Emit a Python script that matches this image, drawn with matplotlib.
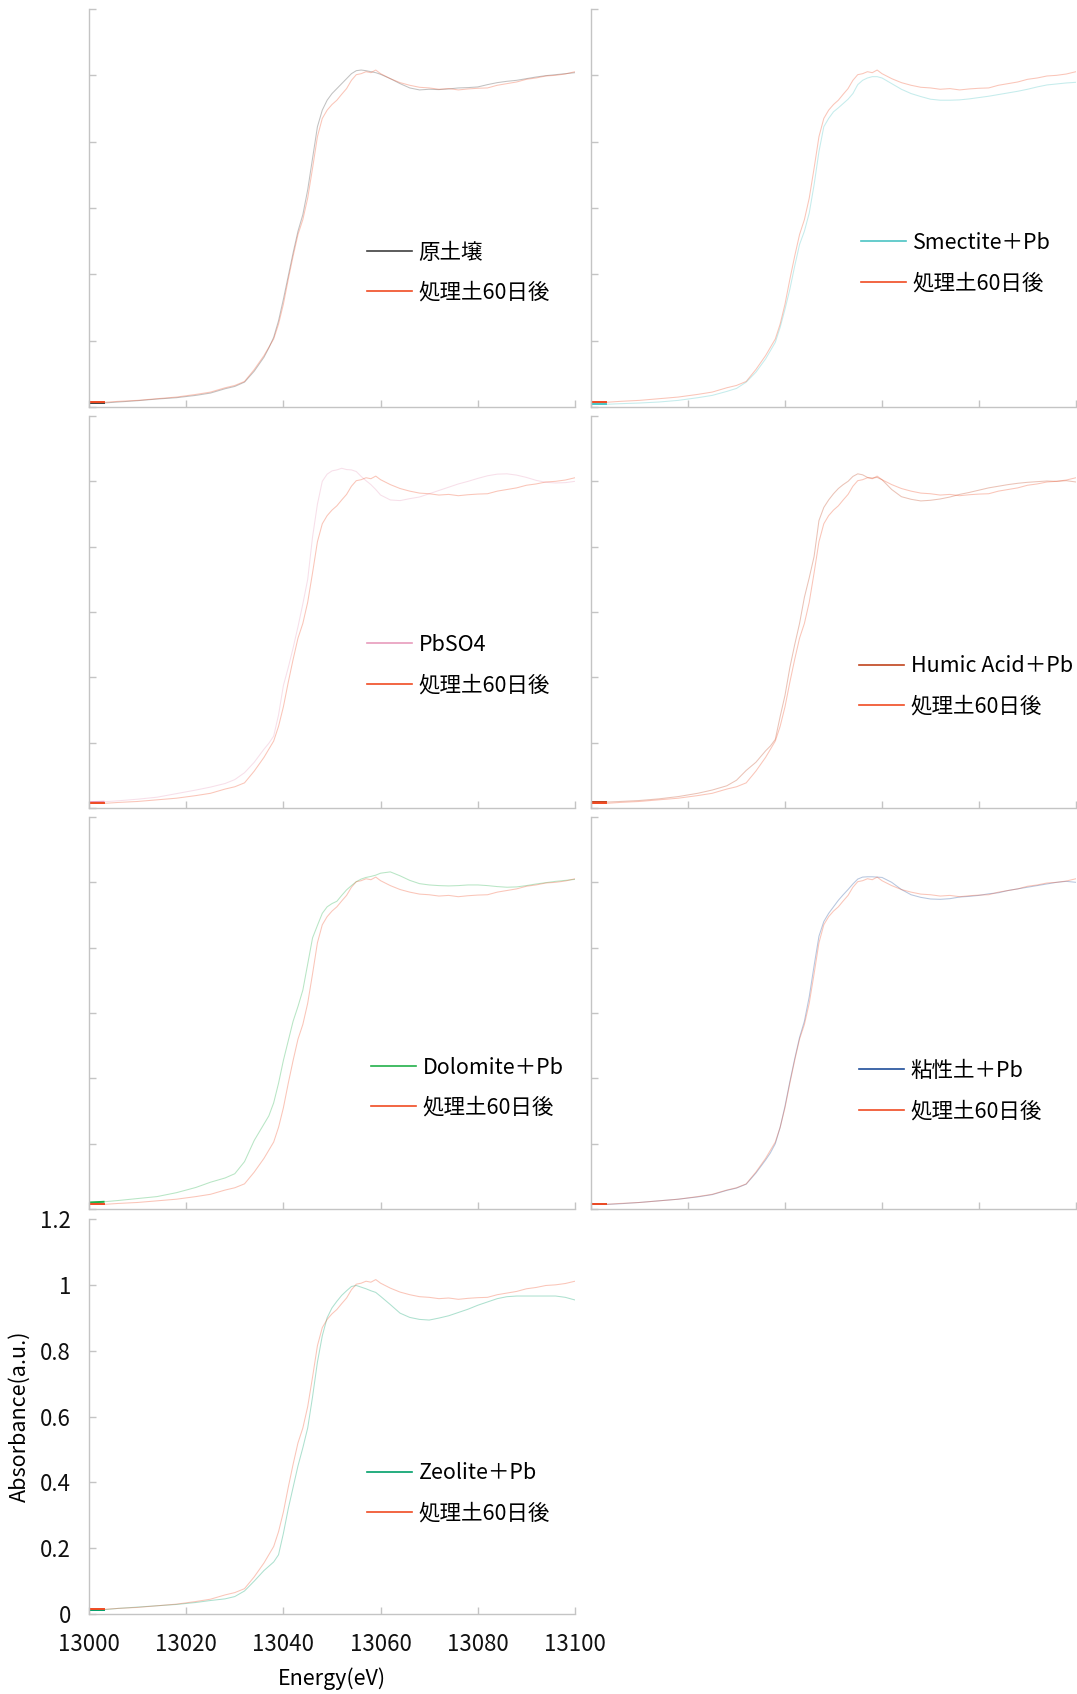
import numpy as np
import matplotlib.pyplot as plt
from matplotlib.lines import Line2D

plt.rcParams['font.family'] = ['Noto Sans CJK JP', 'DejaVu Sans']

# =============================================
# Pb L3-edge XANES spectra (normalised absorbance)
# =============================================
energy = [13000, 13003, 13006, 13010, 13014, 13018, 13022, 13025, 13028, 13030,
          13032, 13034, 13036, 13037, 13038, 13039, 13040, 13041, 13042, 13043,
          13044, 13045, 13046, 13047, 13048, 13049, 13050, 13051, 13052, 13053,
          13054, 13055, 13056, 13057, 13058, 13059, 13060, 13062, 13064, 13066,
          13068, 13070, 13072, 13074, 13076, 13078, 13080, 13082, 13084, 13086,
          13088, 13090, 13092, 13094, 13096, 13098, 13100]

treated_60d = [0.014, 0.014, 0.017, 0.020, 0.025, 0.030, 0.038, 0.045, 0.058, 0.065,
               0.077, 0.113, 0.155, 0.180, 0.205, 0.250, 0.310, 0.385, 0.455, 0.520,
               0.565, 0.630, 0.720, 0.815, 0.870, 0.895, 0.912, 0.925, 0.943, 0.960,
               0.985, 1.002, 1.005, 1.011, 1.008, 1.016, 1.005, 0.990, 0.978, 0.970,
               0.964, 0.962, 0.958, 0.960, 0.956, 0.959, 0.961, 0.962, 0.970, 0.975,
               0.980, 0.988, 0.992, 0.998, 1.000, 1.004, 1.011]

raw_soil = [0.012, 0.012, 0.015, 0.019, 0.024, 0.028, 0.035, 0.042, 0.055, 0.062,
            0.075, 0.108, 0.150, 0.178, 0.210, 0.260, 0.325, 0.395, 0.465, 0.530,
            0.580, 0.655, 0.750, 0.845, 0.895, 0.925, 0.945, 0.960, 0.975, 0.990,
            1.005, 1.014, 1.016, 1.014, 1.011, 1.008, 1.003, 0.990, 0.975, 0.962,
            0.956, 0.958, 0.957, 0.959, 0.962, 0.963, 0.965, 0.972, 0.978, 0.982,
            0.985, 0.990, 0.995, 0.999, 1.002, 1.005, 1.008]

smectite_pb = [0.008, 0.008, 0.010, 0.012, 0.015, 0.020, 0.028, 0.035, 0.047, 0.056,
               0.075, 0.105, 0.145, 0.170, 0.195, 0.240, 0.295, 0.355, 0.425, 0.490,
               0.530, 0.585, 0.670, 0.770, 0.845, 0.870, 0.890, 0.902, 0.915, 0.928,
               0.945, 0.972, 0.985, 0.992, 0.996, 0.996, 0.992, 0.975, 0.958, 0.945,
               0.936, 0.928, 0.925, 0.925, 0.926, 0.929, 0.933, 0.937, 0.942, 0.947,
               0.952, 0.958, 0.965, 0.971, 0.974, 0.977, 0.979]

pbso4 = [0.018, 0.019, 0.022, 0.027, 0.033, 0.044, 0.055, 0.064, 0.075, 0.087,
         0.108, 0.140, 0.180, 0.198, 0.220, 0.285, 0.375, 0.430, 0.490, 0.555,
         0.625, 0.700, 0.830, 0.930, 1.000, 1.022, 1.032, 1.035, 1.040, 1.036,
         1.035, 1.030, 1.015, 1.002, 0.990, 0.975, 0.958, 0.943, 0.941, 0.947,
         0.952, 0.962, 0.972, 0.982, 0.992, 1.000, 1.009, 1.017, 1.022, 1.023,
         1.019, 1.012, 1.003, 0.997, 0.995, 0.996, 1.000]

humic_pb = [0.018, 0.018, 0.020, 0.023, 0.028, 0.035, 0.045, 0.055, 0.068, 0.085,
            0.115, 0.140, 0.175, 0.190, 0.210, 0.280, 0.345, 0.430, 0.500, 0.565,
            0.645, 0.705, 0.770, 0.880, 0.920, 0.943, 0.962, 0.978, 0.990, 1.000,
            1.015, 1.023, 1.020, 1.012, 1.010, 1.012, 1.005, 0.975, 0.953, 0.945,
            0.940, 0.942, 0.946, 0.952, 0.960, 0.966, 0.973, 0.980, 0.985, 0.990,
            0.994, 0.997, 0.999, 1.001, 1.000, 1.002, 0.998]

dolomite_pb = [0.020, 0.022, 0.026, 0.032, 0.038, 0.050, 0.066, 0.082, 0.095, 0.108,
               0.145, 0.210, 0.260, 0.285, 0.325, 0.385, 0.455, 0.515, 0.575, 0.620,
               0.670, 0.750, 0.830, 0.868, 0.905, 0.925, 0.935, 0.942, 0.960, 0.977,
               0.990, 1.002, 1.010, 1.015, 1.018, 1.022, 1.028, 1.032, 1.020, 1.006,
               0.996, 0.992, 0.990, 0.989, 0.990, 0.992, 0.992, 0.990, 0.987, 0.985,
               0.986, 0.990, 0.995, 0.999, 1.003, 1.006, 1.009]

clay_pb = [0.014, 0.014, 0.016, 0.020, 0.025, 0.030, 0.037, 0.044, 0.057, 0.064,
           0.076, 0.110, 0.150, 0.172, 0.200, 0.250, 0.315, 0.390, 0.460, 0.525,
           0.575, 0.650, 0.745, 0.835, 0.880, 0.905, 0.925, 0.945, 0.962, 0.978,
           0.995, 1.010, 1.016, 1.017, 1.017, 1.016, 1.015, 1.000, 0.978, 0.962,
           0.954, 0.949, 0.948, 0.950, 0.955, 0.957, 0.960, 0.965, 0.968, 0.975,
           0.980, 0.985, 0.990, 0.995, 1.000, 1.003, 1.000]

zeolite_pb = [0.013, 0.013, 0.017, 0.021, 0.025, 0.029, 0.035, 0.041, 0.046, 0.053,
              0.070, 0.100, 0.132, 0.145, 0.158, 0.180, 0.245, 0.320, 0.385, 0.450,
              0.505, 0.565, 0.660, 0.765, 0.845, 0.900, 0.930, 0.950, 0.968, 0.982,
              0.995, 0.998, 0.993, 0.988, 0.982, 0.977, 0.965, 0.940, 0.914, 0.901,
              0.895, 0.893, 0.899, 0.906, 0.916, 0.926, 0.938, 0.948, 0.958, 0.964,
              0.966, 0.966, 0.966, 0.966, 0.966, 0.962, 0.954]

samples = ['原土壌', 'Smectite＋Pb', 'PbSO4', 'Humic Acid＋Pb',
           'Dolomite＋Pb', '粘性土＋Pb', 'Zeolite＋Pb']
sample_data = [raw_soil, smectite_pb, pbso4, humic_pb, dolomite_pb, clay_pb, zeolite_pb]
sample_colors = ['#404040', '#4bc4c4', '#e89cbc', '#c0441e', '#22b04a', '#1f4e9a', '#00a06a']

treated_label = '処理土60日後'
treated_color = '#f04b23'

# =============================================
# Layout (pixel boxes: left, top, right, bottom)
# =============================================
W, H = 1077, 1694
boxes = [(89, 9, 575, 407), (591, 9, 1076, 407),
         (89, 416, 575, 808), (591, 416, 1076, 808),
         (89, 817, 575, 1209), (591, 817, 1076, 1209),
         (89, 1219, 575, 1614)]
# legend anchor (axes fraction): handle start x, middle between rows y
legend_at = [(0.572, 0.337), (0.557, 0.362), (0.572, 0.365), (0.553, 0.310),
             (0.580, 0.309), (0.553, 0.301), (0.572, 0.305)]

axis_grey = '#c4c4c4'

fig = plt.figure(figsize=(W / 100, H / 100), dpi=100)

for i, (name, vals, col) in enumerate(zip(samples, sample_data, sample_colors)):
    l, t, r, b = boxes[i]
    ax = fig.add_axes([l / W, 1 - b / H, (r - l) / W, (b - t) / H])

    ax.plot(energy, vals, color=col, lw=0.75, alpha=0.32)
    ax.plot(energy, treated_60d, color=treated_color, lw=0.75, alpha=0.32)
    # first flat step of each scan shows up solid
    ax.plot(energy[:2], vals[:2], color=col, lw=1.4)
    ax.plot(energy[:2], treated_60d[:2], color=treated_color, lw=1.4)

    ax.set_xlim(13000, 13100)
    ax.set_ylim(0, 1.2)
    ax.set_xticks(np.arange(13000, 13101, 20))
    ax.set_yticks(np.arange(0, 1.21, 0.2))

    for s in ['top', 'right']:
        ax.spines[s].set_visible(False)
    for s in ['left', 'bottom']:
        ax.spines[s].set_color(axis_grey)
        ax.spines[s].set_linewidth(1.0)
    ax.tick_params(direction='in', length=5, width=1.0, color=axis_grey,
                   labelsize=16, labelcolor='#111111')

    if i == len(samples) - 1:
        ax.set_yticklabels(['0', '0.2', '0.4', '0.6', '0.8', '1', '1.2'])
        ax.tick_params(axis='y', pad=13)
        ax.tick_params(axis='x', pad=14)
        ax.set_xlabel('Energy(eV)', fontsize=15.5, labelpad=8)
        ax.set_ylabel('Absorbance(a.u.)', fontsize=15.5, labelpad=7)
    else:
        ax.tick_params(labelbottom=False, labelleft=False)

    handles = [Line2D([], [], color=col, lw=1.2),
               Line2D([], [], color=treated_color, lw=1.2)]
    lx, ly = legend_at[i]
    ax.legend(handles, [name, treated_label], loc='center left',
              bbox_to_anchor=(lx, ly), frameon=False, fontsize=15.5,
              handlelength=2.1, handletextpad=0.3, labelspacing=0.85,
              borderpad=0, borderaxespad=0)

fig.savefig('out.png', dpi=100, facecolor='white')
